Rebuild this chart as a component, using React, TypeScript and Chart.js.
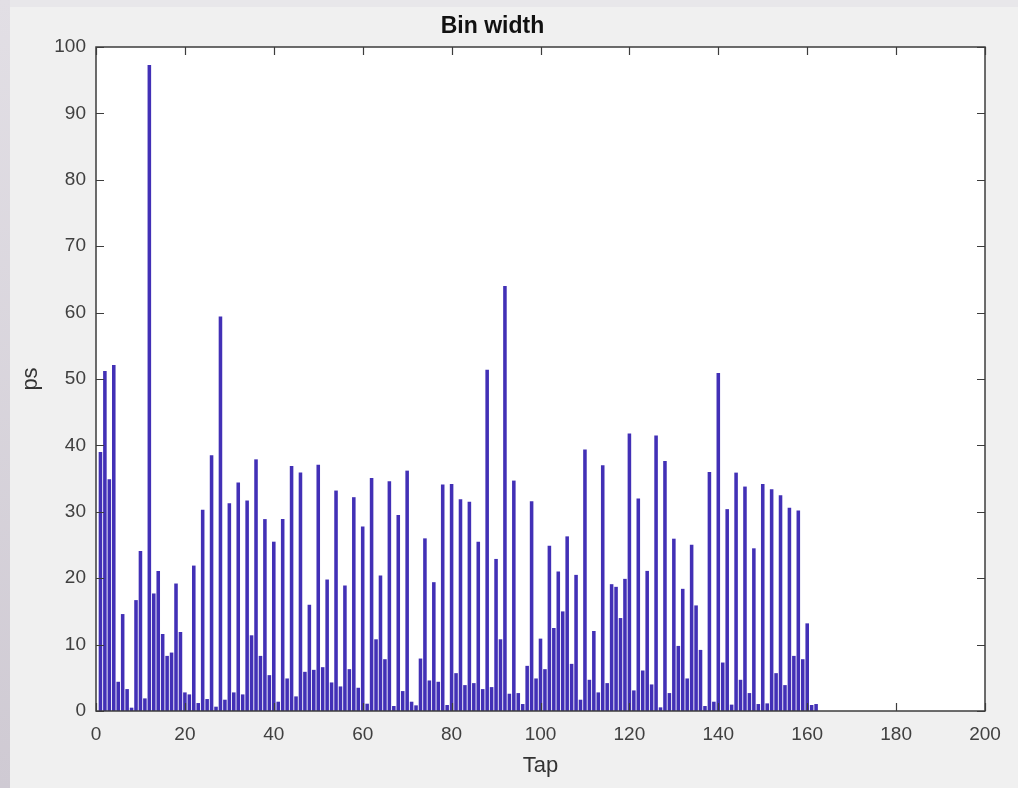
import React, { useEffect, useRef } from "react";
import { Chart, registerables } from "chart.js";

Chart.register(...registerables);

const chartTitle = "Bin width";
const xAxisTitle = "Tap";
const yAxisTitle = "ps";

// bin width (ps) for taps 1..162
const binWidths: number[] = [
  39.0, 51.2, 34.9, 52.1, 4.4, 14.6, 3.3, 0.5, 16.7, 24.1,
  1.9, 97.3, 17.7, 21.1, 11.6, 8.3, 8.8, 19.2, 11.9, 2.8,
  2.5, 21.9, 1.2, 30.3, 1.8, 38.5, 0.65, 59.4, 1.7, 31.3,
  2.8, 34.4, 2.5, 31.7, 11.4, 37.9, 8.3, 28.9, 5.4, 25.5,
  1.4, 28.9, 4.9, 36.9, 2.2, 35.9, 5.9, 16.0, 6.2, 37.1,
  6.6, 19.8, 4.3, 33.2, 3.7, 18.9, 6.3, 32.2, 3.5, 27.8,
  1.1, 35.1, 10.8, 20.4, 7.8, 34.6, 0.75, 29.5, 3.0, 36.2,
  1.4, 0.85, 7.9, 26.0, 4.6, 19.4, 4.4, 34.1, 0.9, 34.2,
  5.7, 31.9, 3.9, 31.5, 4.2, 25.5, 3.3, 51.4, 3.6, 22.9,
  10.8, 64.0, 2.6, 34.7, 2.7, 1.05, 6.8, 31.6, 4.9, 10.9,
  6.3, 24.9, 12.5, 21.0, 15.0, 26.3, 7.1, 20.5, 1.7, 39.4,
  4.7, 12.05, 2.8, 37.0, 4.2, 19.1, 18.7, 14.0, 19.9, 41.8,
  3.1, 32.0, 6.1, 21.1, 4.0, 41.5, 0.55, 37.65, 2.7, 25.95,
  9.8, 18.4, 4.9, 25.05, 15.9, 9.2, 0.75, 36.0, 1.4, 50.9,
  7.3, 30.4, 0.96, 35.9, 4.7, 33.8, 2.7, 24.5, 1.05, 34.2,
  1.15, 33.4, 5.7, 32.5, 3.9, 30.6, 8.3, 30.2, 7.8, 13.2,
  0.9, 1.05,
];

// tap index for each bar
const taps: number[] = binWidths.map((_, i) => i + 1);

const xMin = 0;
const xMax = 200;
const xStep = 20;
const yMin = 0;
const yMax = 100;
const yStep = 10;

const FONT = "'Liberation Sans', Arial, Helvetica, sans-serif";

const framePlugin = {
  id: "matlabFrame",
  beforeDraw(chart: any) {
    const { ctx, chartArea: a } = chart;
    ctx.save();
    ctx.fillStyle = "#ffffff";
    ctx.fillRect(a.left, a.top, a.right - a.left, a.bottom - a.top);
    ctx.restore();
  },
  afterDatasetsDraw(chart: any) {
    const { ctx, chartArea: a, scales } = chart;
    const L = 8;
    ctx.save();
    ctx.strokeStyle = "#3c3c3c";
    ctx.lineWidth = 1.2;
    ctx.beginPath();
    scales.x.ticks.forEach((t: any) => {
      const px = Math.round(scales.x.getPixelForValue(t.value)) + 0.5;
      ctx.moveTo(px, a.bottom);
      ctx.lineTo(px, a.bottom - L);
      ctx.moveTo(px, a.top);
      ctx.lineTo(px, a.top + L);
    });
    scales.y.ticks.forEach((t: any) => {
      const py = Math.round(scales.y.getPixelForValue(t.value)) + 0.5;
      ctx.moveTo(a.left, py);
      ctx.lineTo(a.left + L, py);
      ctx.moveTo(a.right, py);
      ctx.lineTo(a.right - L, py);
    });
    ctx.stroke();
    ctx.lineWidth = 1.5;
    ctx.strokeRect(a.left, a.top, a.right - a.left, a.bottom - a.top);
    ctx.restore();
  },
};

export default function App() {
  const canvasRef = useRef<HTMLCanvasElement | null>(null);

  useEffect(() => {
    const canvas = canvasRef.current;
    if (!canvas) return;
    const chart = new Chart(canvas, {
      type: "bar",
      data: {
        datasets: [
          {
            label: "Bin width",
            data: taps.map((t, i) => ({ x: t, y: binWidths[i] })),
            backgroundColor: "rgb(66,48,182)",
            borderWidth: 0,
            barPercentage: 0.8,
            categoryPercentage: 1.0,
          },
        ],
      },
      options: {
        responsive: false,
        animation: false,
        devicePixelRatio: 1,
        layout: { padding: { left: 0, right: 33, top: 0, bottom: 0 } },
        plugins: {
          legend: { display: false },
          tooltip: { enabled: false },
          title: {
            display: true,
            text: chartTitle,
            color: "#111111",
            font: { family: FONT, size: 23, weight: "bold" },
            padding: { top: 13, bottom: 6.4 },
          },
        },
        scales: {
          x: {
            type: "linear",
            min: xMin,
            max: xMax,
            offset: false,
            grid: { display: false, drawTicks: false, offset: false },
            border: { display: false },
            ticks: {
              stepSize: xStep,
              autoSkip: false,
              maxRotation: 0,
              padding: 12,
              color: "#404040",
              font: { family: FONT, size: 19 },
            },
            title: {
              display: true,
              text: xAxisTitle,
              color: "#333333",
              font: { family: FONT, size: 22 },
              padding: { top: 0, bottom: 9.3 },
            },
            afterFit: (scale: any) => {
              scale.height = 77;
            },
          },
          y: {
            type: "linear",
            min: yMin,
            max: yMax,
            grid: { display: false, drawTicks: false },
            border: { display: false },
            ticks: {
              stepSize: yStep,
              autoSkip: false,
              padding: 10,
              color: "#404040",
              font: { family: FONT, size: 19 },
            },
            title: {
              display: true,
              text: yAxisTitle,
              color: "#333333",
              font: { family: FONT, size: 22 },
              padding: { top: 17.6, bottom: 0 },
            },
            afterFit: (scale: any) => {
              scale.width = 96;
            },
          },
        },
      },
      plugins: [framePlugin],
    } as any);
    return () => chart.destroy();
  }, []);

  return (
    <div
      style={{
        position: "fixed",
        left: 0,
        top: 0,
        width: 1018,
        height: 788,
        background: "#f0f0f0",
        overflow: "hidden",
      }}
    >
      <div
        style={{
          position: "absolute",
          left: 0,
          top: 0,
          width: 1018,
          height: 7,
          background: "#e8e7ea",
        }}
      />
      <div
        style={{
          position: "absolute",
          left: 0,
          top: 0,
          width: 10,
          height: 788,
          background: "linear-gradient(#e2dfe5, #cfcad3)",
        }}
      />
      <canvas
        ref={canvasRef}
        width={1018}
        height={788}
        style={{ position: "absolute", left: 0, top: 0, width: 1018, height: 788 }}
      />
    </div>
  );
}
